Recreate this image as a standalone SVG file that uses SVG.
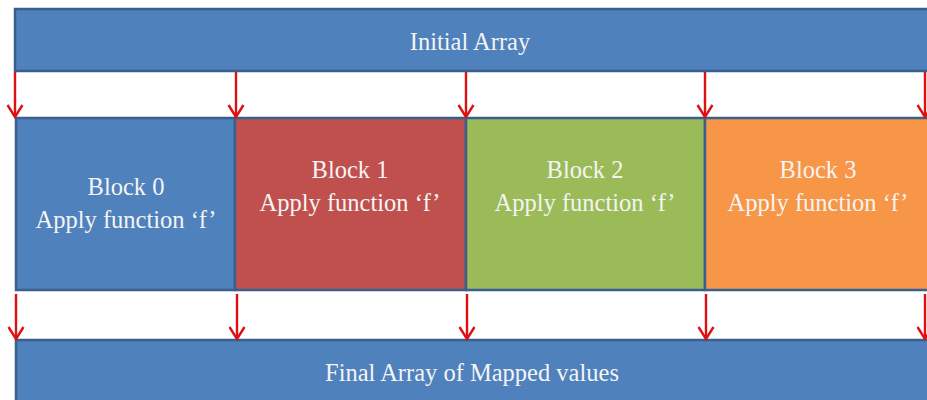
<svg xmlns="http://www.w3.org/2000/svg" width="927" height="400" viewBox="0 0 927 400">
<defs>
<style>
.bar{fill:#4f81bd;stroke:#3a5f8c;stroke-width:2.5}
.b0{fill:#4f81bd;stroke:#3a5f8c;stroke-width:2.5}
.b1{fill:#c0504d;stroke:#3a5f8c;stroke-width:2.5}
.b2{fill:#9bbb59;stroke:#3a5f8c;stroke-width:2.5}
.b3{fill:#f79646;stroke:#3a5f8c;stroke-width:2.5}
.t{font-family:"Liberation Serif","Times New Roman",serif;font-size:24.5px;fill:#f4f4f4;text-anchor:middle}
.a{stroke:#dd1111;stroke-width:2.4;fill:none}
</style>
<marker id="ah" viewBox="0 0 16 18" refX="14" refY="9" markerWidth="16" markerHeight="18" markerUnits="userSpaceOnUse" orient="auto">
<path d="M2,1.5 L14,9 L2,16.5" fill="none" stroke="#dd1111" stroke-width="2.4"/>
</marker>
</defs>
<rect width="927" height="400" fill="#ffffff"/>
<g id="initial">
<rect class="bar" x="15" y="9" width="925" height="62"/>
<text class="t" x="470" y="50">Initial Array</text>
</g>
<g id="block0">
<rect class="b0" x="16" y="118" width="219" height="172"/>
<text class="t" x="126" y="195">Block 0</text>
<text class="t" x="126" y="228">Apply function ‘f’</text>
</g>
<g id="block1">
<rect class="b1" x="235" y="118" width="231" height="172"/>
<text class="t" x="350" y="178">Block 1</text>
<text class="t" x="350" y="211">Apply function ‘f’</text>
</g>
<g id="block2">
<rect class="b2" x="466" y="118" width="239" height="172"/>
<text class="t" x="585" y="178">Block 2</text>
<text class="t" x="585" y="211">Apply function ‘f’</text>
</g>
<g id="block3">
<rect class="b3" x="705" y="118" width="235" height="172"/>
<text class="t" x="818" y="178">Block 3</text>
<text class="t" x="818" y="211">Apply function ‘f’</text>
</g>
<g id="final">
<rect class="bar" x="16" y="340" width="924" height="70"/>
<text class="t" x="472" y="381">Final Array of Mapped values</text>
</g>
<g id="connectors">
<line class="a" x1="15" y1="72" x2="15" y2="117" marker-end="url(#ah)"/>
<line class="a" x1="236" y1="72" x2="236" y2="117" marker-end="url(#ah)"/>
<line class="a" x1="466" y1="72" x2="466" y2="117" marker-end="url(#ah)"/>
<line class="a" x1="705" y1="72" x2="705" y2="117" marker-end="url(#ah)"/>
<line class="a" x1="925" y1="72" x2="925" y2="117" marker-end="url(#ah)"/>
<line class="a" x1="16" y1="294" x2="16" y2="339" marker-end="url(#ah)"/>
<line class="a" x1="237" y1="294" x2="237" y2="339" marker-end="url(#ah)"/>
<line class="a" x1="467" y1="294" x2="467" y2="339" marker-end="url(#ah)"/>
<line class="a" x1="706" y1="294" x2="706" y2="339" marker-end="url(#ah)"/>
<line class="a" x1="925" y1="294" x2="925" y2="339" marker-end="url(#ah)"/>
</g>
</svg>
